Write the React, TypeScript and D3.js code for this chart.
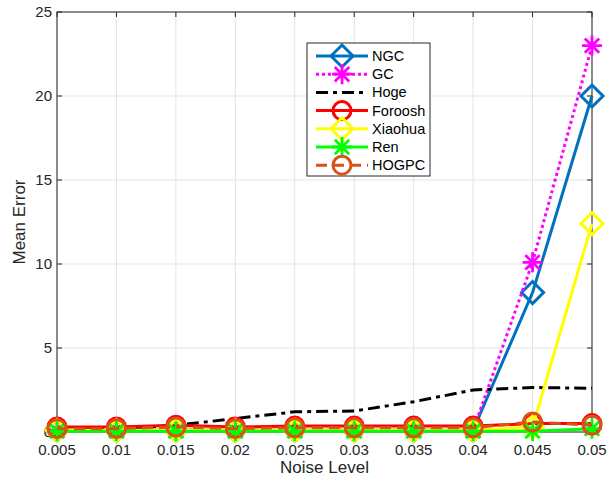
import * as d3 from 'd3';

// noise levels on the x axis
const noise = [0.005, 0.01, 0.015, 0.02, 0.025, 0.03, 0.035, 0.04, 0.045, 0.05];
const xTicks = ['0.005', '0.01', '0.015', '0.02', '0.025', '0.03', '0.035', '0.04', '0.045', '0.05'];
const yTicks = [0, 5, 10, 15, 20, 25];

// mean error per method
const ngc = [0.1, 0.1, 0.1, 0.1, 0.1, 0.1, 0.1, 0.1, 8.3, 20.0];
const gc = [0.1, 0.1, 0.1, 0.1, 0.1, 0.1, 0.1, 0.1, 10.1, 23.0];
const hoge = [0.15, 0.2, 0.4, 0.8, 1.2, 1.25, 1.8, 2.5, 2.65, 2.6];
const foroosh = [0.3, 0.3, 0.4, 0.3, 0.35, 0.35, 0.35, 0.35, 0.5, 0.5];
const xiaohua = [0.1, 0.1, 0.1, 0.1, 0.1, 0.1, 0.1, 0.1, 0.3, 12.4];
const ren = [0.05, 0.05, 0.05, 0.05, 0.05, 0.05, 0.05, 0.05, 0.05, 0.2];
const hogpc = [0.2, 0.2, 0.3, 0.2, 0.25, 0.25, 0.25, 0.25, 0.6, 0.4];

type Marker = 'diamond' | 'star' | 'circle' | 'none';
const series: { name: string; values: number[]; color: string; dash: string; marker: Marker }[] = [
  { name: 'NGC', values: ngc, color: '#0072BD', dash: '', marker: 'diamond' },
  { name: 'GC', values: gc, color: '#FF00FF', dash: '3,3', marker: 'star' },
  { name: 'Hoge', values: hoge, color: '#000000', dash: '12,5,4,5', marker: 'none' },
  { name: 'Foroosh', values: foroosh, color: '#FF0000', dash: '', marker: 'circle' },
  { name: 'Xiaohua', values: xiaohua, color: '#FFFF00', dash: '', marker: 'diamond' },
  { name: 'Ren', values: ren, color: '#00FF00', dash: '', marker: 'star' },
  { name: 'HOGPC', values: hogpc, color: '#D95319', dash: '11,6', marker: 'circle' },
];

function MarkerShape({ type, x, y, color }: { type: Marker; x: number; y: number; color: string }) {
  if (type === 'diamond') {
    const s = 11;
    return (
      <path
        d={`M${x},${y - s}L${x + s},${y}L${x},${y + s}L${x - s},${y}Z`}
        fill="none"
        stroke={color}
        strokeWidth={3}
      />
    );
  }
  if (type === 'circle') {
    return <circle cx={x} cy={y} r={9} fill="none" stroke={color} strokeWidth={3} />;
  }
  if (type === 'star') {
    const s = 10;
    const d = s * 0.72;
    return (
      <path
        d={`M${x - s},${y}L${x + s},${y}M${x},${y - s}L${x},${y + s}M${x - d},${y - d}L${x + d},${y + d}M${x - d},${y + d}L${x + d},${y - d}`}
        stroke={color}
        strokeWidth={2.8}
      />
    );
  }
  return null;
}

export default function App() {
  const width = 607;
  const height = 479;
  const left = 57;
  const right = 592;
  const top = 12;
  const bottom = 432;

  const x = d3.scaleLinear().domain([0.005, 0.05]).range([left, right]);
  const y = d3.scaleLinear().domain([0, 25]).range([bottom, top]);

  const font = 'Liberation Sans, Arial, sans-serif';

  const legendX = 307;
  const legendY = 43;
  const rowH = 18.2;

  return (
    <svg width={width} height={height} style={{ position: 'absolute', left: 0, top: 0 }}>
      <rect x={0} y={0} width={width} height={height} fill="#fff" />
      {/* grid */}
      {noise.map((n, i) => (
        <line key={`gx${i}`} x1={x(n)} x2={x(n)} y1={top} y2={bottom} stroke="#e3e3e3" strokeWidth={1} />
      ))}
      {yTicks.map((t) => (
        <line key={`gy${t}`} x1={left} x2={right} y1={y(t)} y2={y(t)} stroke="#e3e3e3" strokeWidth={1} />
      ))}

      {/* axes box */}
      <rect x={left} y={top} width={right - left} height={bottom - top} fill="none" stroke="#262626" strokeWidth={1} />
      {noise.map((n, i) => (
        <g key={`xt${i}`}>
          <line x1={x(n)} x2={x(n)} y1={bottom} y2={bottom - 5} stroke="#262626" />
          <line x1={x(n)} x2={x(n)} y1={top} y2={top + 5} stroke="#262626" />
          <text x={x(n)} y={bottom + 23} textAnchor="middle" fontSize={15} fontFamily={font} fill="#262626">
            {xTicks[i]}
          </text>
        </g>
      ))}
      {yTicks.map((t) => (
        <g key={`yt${t}`}>
          <line x1={left} x2={left + 5} y1={y(t)} y2={y(t)} stroke="#262626" />
          <line x1={right} x2={right - 5} y1={y(t)} y2={y(t)} stroke="#262626" />
          <text x={left - 5} y={y(t) + 5} textAnchor="end" fontSize={15} fontFamily={font} fill="#262626">
            {t}
          </text>
        </g>
      ))}
      <text x={(left + right) / 2} y={473} textAnchor="middle" fontSize={17} fontFamily={font} fill="#262626">
        Noise Level
      </text>
      <text
        transform={`translate(25, ${(top + bottom) / 2}) rotate(-90)`}
        textAnchor="middle"
        fontSize={17}
        fontFamily={font}
        fill="#262626"
      >
        Mean Error
      </text>

      {/* series */}
      {series.map((s) => {
        const line = d3
          .line<number>()
          .x((_, i) => x(noise[i]))
          .y((v) => y(v));
        return (
          <g key={s.name}>
            <path d={line(s.values) || ''} fill="none" stroke={s.color} strokeWidth={3} strokeDasharray={s.dash} />
            {s.values.map((v, i) => (
              <MarkerShape key={i} type={s.marker} x={x(noise[i])} y={y(v)} color={s.color} />
            ))}
          </g>
        );
      })}

      {/* legend */}
      <rect x={legendX} y={legendY} width={123} height={133} fill="#fff" stroke="#262626" strokeWidth={1} />
      {series.map((s, i) => {
        const cy = legendY + 13 + i * rowH;
        return (
          <g key={`lg${s.name}`}>
            <line x1={legendX + 9} x2={legendX + 61} y1={cy} y2={cy} stroke={s.color} strokeWidth={3} strokeDasharray={s.dash} />
            <MarkerShape type={s.marker} x={legendX + 35} y={cy} color={s.color} />
            <text x={legendX + 65} y={cy + 5} fontSize={14.5} fontFamily={font} fill="#000">
              {s.name}
            </text>
          </g>
        );
      })}
    </svg>
  );
}
